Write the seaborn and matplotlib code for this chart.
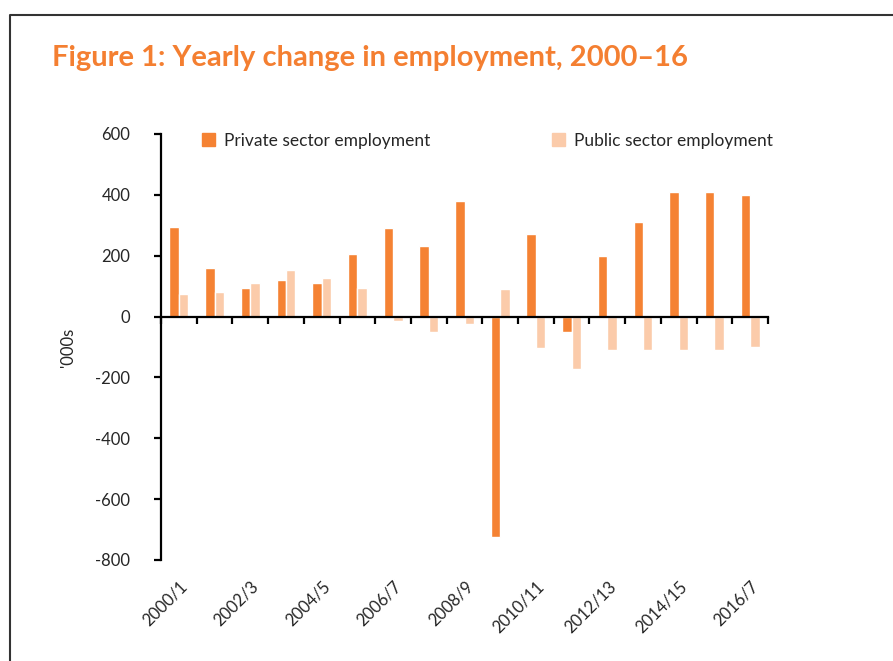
import numpy as np
import pandas as pd
import matplotlib.pyplot as plt
import seaborn as sns
from matplotlib.lines import Line2D
from matplotlib.patches import Patch

years = ['2000/1', '2001/2', '2002/3', '2003/4', '2004/5', '2005/6', '2006/7',
         '2007/8', '2008/9', '2009/10', '2010/11', '2011/12', '2012/13',
         '2013/14', '2014/15', '2015/16', '2016/7']
private = [294, 159, 95, 121, 110, 206, 290, 232, 380, -723, 273, -51, 200,
           311, 410, 410, 399]
public = [74, 80, 110, 153, 127, 95, -14, -51, -25, 90, -104, -172, -109,
          -109, -109, -109, -99]
shown_labels = years[::2]
y_ticks = [600, 400, 200, 0, -200, -400, -600, -800]

c_priv = '#F58233'
c_pub = '#FBCBAA'

sns.set_style('white')
plt.rcParams['font.family'] = ['Lato', 'DejaVu Sans']

df = pd.DataFrame({
    'year': years * 2,
    'value': private + public,
    'sector': ['Private sector employment'] * len(years) + ['Public sector employment'] * len(years),
})

fig = plt.figure(figsize=(8.93, 6.61), dpi=100)
ax = fig.add_axes([161 / 893, 1 - 560 / 661, (768 - 161) / 893, (560 - 134) / 661])

sns.barplot(data=df, x='year', y='value', hue='sector', order=years,
            palette=[c_priv, c_pub], width=0.53, gap=0, saturation=1,
            ax=ax, legend=False)

ax.set_xlim(-0.5, len(years) - 0.5)
ax.set_ylim(-800, 600)
ax.set_yticks(y_ticks)
ax.set_yticklabels([str(v) for v in y_ticks])
ax.set_ylabel("'000s", fontsize=12, labelpad=14)
ax.set_xlabel('')

for s in ['top', 'right']:
    ax.spines[s].set_visible(False)
ax.spines['bottom'].set_position(('data', 0))
for s in ['bottom', 'left']:
    ax.spines[s].set_linewidth(1.6)
    ax.spines[s].set_color('black')

ax.set_xticks([])
ax.set_xticks(np.arange(-0.5, len(years), 1), minor=True)
ax.tick_params(axis='x', which='minor', direction='out', length=5, width=1.6,
               color='black', bottom=True)
ax.tick_params(axis='y', direction='out', length=5, width=1.6, color='black',
               left=True, labelsize=12, pad=17)

sec = ax.secondary_xaxis('bottom')
sec.spines['bottom'].set_visible(False)
sec.set_xticks(range(0, len(years), 2))
sec.set_xticklabels(shown_labels)
sec.tick_params(length=0, pad=13, labelsize=12)
for lab in sec.get_xticklabels():
    lab.set_rotation(45)
    lab.set_ha('right')
    lab.set_rotation_mode('anchor')

handles = [Patch(color=c_priv, label='Private sector employment'),
           Patch(color=c_pub, label='Public sector employment')]
ax.legend(handles=handles, loc='upper left', bbox_to_anchor=(0.042, 1.04),
          ncol=2, frameon=False, fontsize=12.5, handlelength=0.75,
          handleheight=0.75, handletextpad=0.5, columnspacing=7.05)

fig.text(52 / 893, 1 - 58 / 661, 'Figure 1: Yearly change in employment, 2000\u201316',
         color='#F47F31', fontsize=21, fontweight='bold', va='center', ha='left')

fig.add_artist(Line2D([10 / 893, 10 / 893, 1], [0, 1 - 15 / 661, 1 - 15 / 661],
                      transform=fig.transFigure, color='#333333', lw=1.5))

fig.savefig('out.png', dpi=100)
